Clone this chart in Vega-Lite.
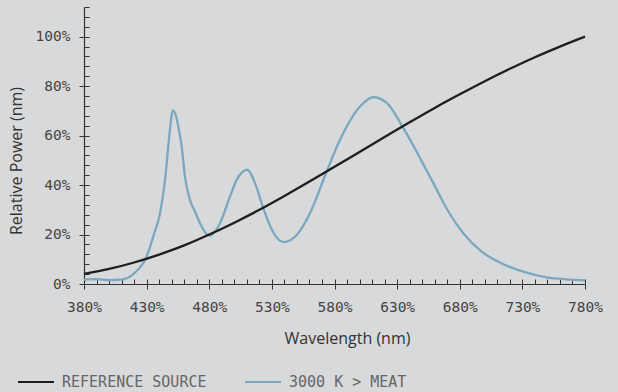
{
  "$schema": "https://vega.github.io/schema/vega-lite/v6.json",
  "width": 501,
  "height": 277,
  "autosize": {"type": "none"},
  "padding": {"left": 84, "top": 7, "right": 33, "bottom": 108},
  "background": "#d8d9db",
  "config": {
    "view": {"stroke": null},
    "axis": {"grid": false, "domainColor": "#333333", "tickColor": "#333333", "domainWidth": 1.2, "tickWidth": 1}
  },
  "data": {
    "values": [
      {"series": "3000 K > MEAT", "wl": 380, "v": 1.8},
      {"series": "3000 K > MEAT", "wl": 390, "v": 2.0},
      {"series": "3000 K > MEAT", "wl": 400, "v": 1.6},
      {"series": "3000 K > MEAT", "wl": 410, "v": 1.8},
      {"series": "3000 K > MEAT", "wl": 420, "v": 4.3},
      {"series": "3000 K > MEAT", "wl": 430, "v": 11.1},
      {"series": "3000 K > MEAT", "wl": 435.3, "v": 19.2},
      {"series": "3000 K > MEAT", "wl": 440.7, "v": 28.6},
      {"series": "3000 K > MEAT", "wl": 444.7, "v": 42.1},
      {"series": "3000 K > MEAT", "wl": 447.3, "v": 55.6},
      {"series": "3000 K > MEAT", "wl": 449.5, "v": 66.4},
      {"series": "3000 K > MEAT", "wl": 450.8, "v": 70.2},
      {"series": "3000 K > MEAT", "wl": 452.7, "v": 69.1},
      {"series": "3000 K > MEAT", "wl": 455.3, "v": 63.7},
      {"series": "3000 K > MEAT", "wl": 458.0, "v": 55.6},
      {"series": "3000 K > MEAT", "wl": 460.6, "v": 43.4},
      {"series": "3000 K > MEAT", "wl": 464.6, "v": 34.0},
      {"series": "3000 K > MEAT", "wl": 468.6, "v": 29.3},
      {"series": "3000 K > MEAT", "wl": 472.6, "v": 24.6},
      {"series": "3000 K > MEAT", "wl": 478.0, "v": 20.2},
      {"series": "3000 K > MEAT", "wl": 480.6, "v": 19.6},
      {"series": "3000 K > MEAT", "wl": 488.6, "v": 24.6},
      {"series": "3000 K > MEAT", "wl": 496.6, "v": 35.4},
      {"series": "3000 K > MEAT", "wl": 501.9, "v": 42.1},
      {"series": "3000 K > MEAT", "wl": 510.5, "v": 46.2},
      {"series": "3000 K > MEAT", "wl": 516.5, "v": 40.8},
      {"series": "3000 K > MEAT", "wl": 523.2, "v": 30.6},
      {"series": "3000 K > MEAT", "wl": 530, "v": 21.9},
      {"series": "3000 K > MEAT", "wl": 539.2, "v": 16.9},
      {"series": "3000 K > MEAT", "wl": 549.8, "v": 19.8},
      {"series": "3000 K > MEAT", "wl": 560.4, "v": 28.6},
      {"series": "3000 K > MEAT", "wl": 573.2, "v": 44.8},
      {"series": "3000 K > MEAT", "wl": 584.4, "v": 58.3},
      {"series": "3000 K > MEAT", "wl": 600.4, "v": 71.8},
      {"series": "3000 K > MEAT", "wl": 611, "v": 75.5},
      {"series": "3000 K > MEAT", "wl": 621.7, "v": 73.2},
      {"series": "3000 K > MEAT", "wl": 635, "v": 63.0},
      {"series": "3000 K > MEAT", "wl": 648.3, "v": 50.9},
      {"series": "3000 K > MEAT", "wl": 658.9, "v": 40.8},
      {"series": "3000 K > MEAT", "wl": 670.9, "v": 29.3},
      {"series": "3000 K > MEAT", "wl": 682.8, "v": 20.5},
      {"series": "3000 K > MEAT", "wl": 697.5, "v": 13.1},
      {"series": "3000 K > MEAT", "wl": 714.8, "v": 8.0},
      {"series": "3000 K > MEAT", "wl": 730.7, "v": 5.0},
      {"series": "3000 K > MEAT", "wl": 749.4, "v": 2.7},
      {"series": "3000 K > MEAT", "wl": 765, "v": 1.9},
      {"series": "3000 K > MEAT", "wl": 780, "v": 1.5},
      {"series": "REFERENCE SOURCE", "wl": 380, "v": 4.1},
      {"series": "REFERENCE SOURCE", "wl": 400, "v": 6.1},
      {"series": "REFERENCE SOURCE", "wl": 420, "v": 8.7},
      {"series": "REFERENCE SOURCE", "wl": 440, "v": 11.9},
      {"series": "REFERENCE SOURCE", "wl": 460, "v": 15.6},
      {"series": "REFERENCE SOURCE", "wl": 480, "v": 20.0},
      {"series": "REFERENCE SOURCE", "wl": 500, "v": 24.8},
      {"series": "REFERENCE SOURCE", "wl": 520, "v": 30.0},
      {"series": "REFERENCE SOURCE", "wl": 540, "v": 35.6},
      {"series": "REFERENCE SOURCE", "wl": 560, "v": 41.4},
      {"series": "REFERENCE SOURCE", "wl": 580, "v": 47.4},
      {"series": "REFERENCE SOURCE", "wl": 600, "v": 53.4},
      {"series": "REFERENCE SOURCE", "wl": 620, "v": 59.4},
      {"series": "REFERENCE SOURCE", "wl": 640, "v": 65.4},
      {"series": "REFERENCE SOURCE", "wl": 660, "v": 71.2},
      {"series": "REFERENCE SOURCE", "wl": 680, "v": 76.7},
      {"series": "REFERENCE SOURCE", "wl": 700, "v": 82.0},
      {"series": "REFERENCE SOURCE", "wl": 720, "v": 87.0},
      {"series": "REFERENCE SOURCE", "wl": 740, "v": 91.7},
      {"series": "REFERENCE SOURCE", "wl": 760, "v": 96.0},
      {"series": "REFERENCE SOURCE", "wl": 780, "v": 100.0}
    ]
  },
  "layer": [
    {
      "mark": {"type": "line", "interpolate": "monotone", "strokeWidth": 2.3},
      "encoding": {
        "x": {
          "field": "wl", "type": "quantitative",
          "scale": {"domain": [380, 780], "nice": false, "zero": false},
          "axis": {
            "orient": "bottom",
            "values": [380,390,400,410,420,430,440,450,460,470,480,490,500,510,520,530,540,550,560,570,580,590,600,610,620,630,640,650,660,670,680,690,700,710,720,730,740,750,760,770,780],
            "tickSize": -5, "labels": false, "title": null, "domain": true
          }
        },
        "y": {
          "field": "v", "type": "quantitative",
          "scale": {"domain": [0, 112], "nice": false},
          "axis": {
            "orient": "left",
            "values": [0,4,8,12,16,20,24,28,32,36,40,44,48,52,56,60,64,68,72,76,80,84,88,92,96,100,104,108,112],
            "tickSize": -5, "labels": false, "title": null, "domain": true
          }
        },
        "color": {
          "field": "series", "type": "nominal",
          "scale": {"domain": ["REFERENCE SOURCE", "3000 K > MEAT"], "range": ["#1e1e1e", "#7ba7bf"]},
          "legend": {
            "orient": "none", "legendX": -67, "legendY": 356,
            "direction": "horizontal", "title": null,
            "symbolType": "stroke", "symbolSize": 1296, "symbolStrokeWidth": 2,
            "labelFont": "DejaVu Sans Mono", "labelFontSize": 15, "labelColor": "#666666",
            "labelOffset": 7, "columnPadding": 34, "padding": 0
          }
        }
      }
    },
    {
      "mark": {"type": "line", "opacity": 0},
      "encoding": {
        "x": {
          "field": "wl", "type": "quantitative",
          "scale": {"domain": [380, 780], "nice": false, "zero": false},
          "axis": {
            "orient": "bottom",
            "values": [380,430,480,530,580,630,680,730,780],
            "tickSize": 5, "domain": false, "labelFlush": false,
            "labelExpr": "datum.value + '%'",
            "labelFont": "DejaVu Sans Mono", "labelFontSize": 14.5, "labelColor": "#444444", "labelPadding": 11,
            "title": "Wavelength (nm)", "titleFont": "Open Sans", "titleFontSize": 16, "titleFontWeight": "normal", "titleColor": "#333333",
            "titleX": 263, "titleY": 59, "titleBaseline": "alphabetic", "titleAlign": "center"
          }
        },
        "y": {
          "field": "v", "type": "quantitative",
          "scale": {"domain": [0, 112], "nice": false},
          "axis": {
            "orient": "left",
            "values": [0,20,40,60,80,100],
            "tickSize": 5, "domain": false, "labelFlush": false,
            "labelExpr": "datum.value + '%'",
            "labelFont": "DejaVu Sans Mono", "labelFontSize": 14.5, "labelColor": "#444444", "labelPadding": 9,
            "title": "Relative Power (nm)", "titleFont": "Open Sans", "titleFontSize": 16, "titleFontWeight": "normal", "titleColor": "#333333",
            "titleX": -68, "titleY": 153.5, "titleAngle": 270, "titleBaseline": "middle", "titleAlign": "center"
          }
        },
        "detail": {"field": "series", "type": "nominal"}
      }
    }
  ],
  "resolve": {"axis": {"x": "independent", "y": "independent"}}
}
